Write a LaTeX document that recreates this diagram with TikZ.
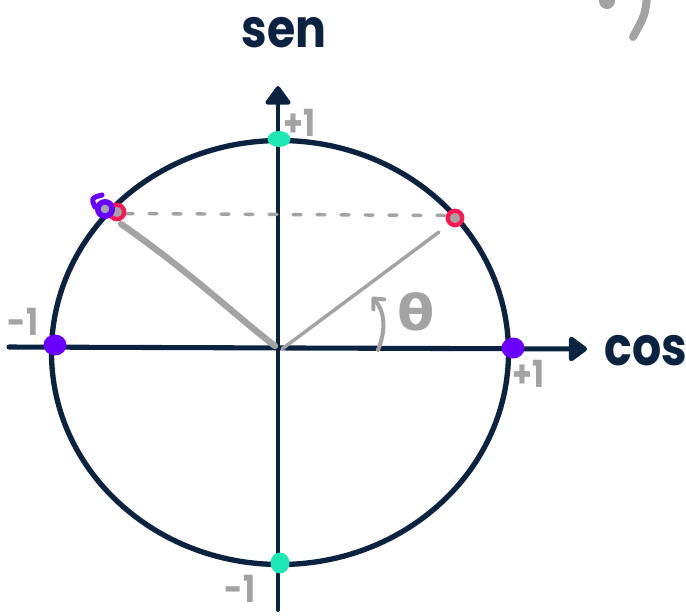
\documentclass[tikz,border=0pt]{standalone}
\usepackage{fontspec}
\newfontfamily\handfont{Poppins}
\newfontfamily\greekfont{DejaVu Sans}
\usetikzlibrary{arrows.meta}
\definecolor{navy}{HTML}{0B2341}
\definecolor{pencil}{HTML}{A3A3A3}
\definecolor{mint}{HTML}{1DE8B5}
\definecolor{myviolet}{HTML}{6A00FF}
\definecolor{ruby}{HTML}{FF1654}
\begin{document}
\begin{tikzpicture}[x=0.75pt,y=-0.75pt,line cap=round,line join=round,
  axisline/.style={navy,-{Triangle[round,length=15pt,width=21pt]}},
  axislbl/.style={inner sep=0pt,text=navy,font=\handfont\bfseries\fontsize{40}{40}\selectfont,xscale=0.86},
  vallbl/.style={inner sep=0pt,text=pencil,font=\handfont\bfseries\fontsize{28}{28}\selectfont,xscale=0.85},
  graystroke/.style={pencil,line width=2.6pt},
  ring/.style={ruby,line width=3.2pt,fill=pencil}]
\useasboundingbox (0,0) rectangle (686,615);

% named points
\coordinate (O) at (278,348);
\coordinate (yb) at (278,610);
\coordinate (yt) at (278,86);
\coordinate (xl) at (9,347);
\coordinate (xr) at (587,349);
\coordinate (P) at (455,218);
\coordinate (Q) at (117,212);

% circle
\draw[navy,line width=4pt] (280,352.5) ellipse [x radius=228.5,y radius=212];

% axes
\draw[axisline,line width=3pt] (yb) -- (yt);
\draw[axisline,line width=3.8pt] (xl) -- (xr);

% gray construction lines
\draw[graystroke,dash pattern=on 6pt off 12pt] (125,213.5) -- (447,215.5);
\draw[pencil,line width=4.8pt] (121,224) .. controls (190,272) and (236,316) .. (275,346);
\draw[graystroke] (282,349) -- (439,232);

% rings at the two points
\draw[ring] (P) circle [radius=7.2];
\draw[ring] (Q) circle [radius=7.2];
\draw[myviolet,line width=4.2pt,fill=pencil] (105,209) circle [radius=7.2];
\draw[myviolet,line width=3.8pt] (95,207) .. controls (91,198) .. (102,195);

% axis points
\fill[mint] (279,139) ellipse [x radius=11.5,y radius=8];
\fill[mint] (280,563) ellipse [x radius=9.5,y radius=10.5];
\fill[myviolet] (55,345) ellipse [x radius=11.5,y radius=10.5];
\fill[myviolet] (513,348) ellipse [x radius=11.5,y radius=10.5];

% angle arrow and theta
\draw[pencil,line width=3pt,-{Straight Barb[round,length=6pt,width=11pt]}] (378,350) .. controls (387,328) and (384,310) .. (372,297);
\node[inner sep=0pt,text=pencil,font=\greekfont\bfseries\fontsize{37}{37}\selectfont,xscale=1.1] (theta) at (416,312) {θ};

% labels
\node[axislbl] (sen) at (284,33) {sen};
\node[axislbl] (cos) at (646,351) {cos};
\node[vallbl] (ptop) at (299,123) {+1};
\node[vallbl] (mleft) at (23,322) {-1};
\node[vallbl] (pright) at (528,374) {+1};
\node[vallbl] (mbot) at (240,589) {-1};

% partial marks at top right
\fill[pencil] (607,1) circle [radius=8];
\draw[pencil,line width=6pt] (647,-3) .. controls (645,15) .. (633,37);
\end{tikzpicture}
\end{document}
